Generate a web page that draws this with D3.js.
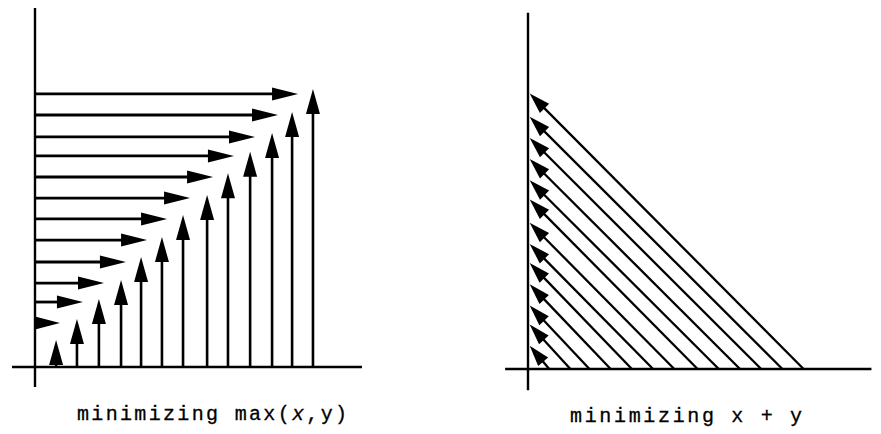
<!DOCTYPE html>
<meta charset="utf-8">
<style>
body { margin: 0; background: #fff; }
text { font-family: "Liberation Mono", "DejaVu Sans Mono", monospace; font-size: 20px; fill: #000; stroke: #000; stroke-width: 0.3px; }
</style>
<svg width="881" height="434"></svg>
<script src="https://d3js.org/d3.v7.min.js"></script>
<script>

// left panel: minimizing max(x,y)  (grid units)
var maxRowY   = [2.07, 3.05, 3.94, 4.93, 5.96, 6.95, 7.93, 8.92, 9.91, 10.8, 11.83, 12.82];
var maxRowTip = [1.17, 2.25, 3.24, 4.27, 5.26, 6.2, 7.28, 8.36, 9.34, 10.33, 11.41, 12.35];
var maxColX   = [0.99, 1.97, 3.0, 4.04, 4.98, 5.96, 6.95, 8.08, 9.06, 10.1, 11.13, 12.07, 13.05];
var maxColTip = [1.27, 2.25, 3.19, 4.08, 5.16, 6.1, 7.14, 8.08, 9.1, 10.1, 10.99, 11.97, 13.05];

// right panel: minimizing x + y  (foot on x axis, tip on y axis)
var sumFoot = [1.0, 2.0, 2.9, 3.9, 4.9, 5.9, 6.9, 8.0, 9.0, 10.0, 11.0, 12.0, 13.0];
var sumTip  = [1.1, 2.1, 3.0, 4.0, 5.0, 5.9, 6.9, 8.0, 8.9, 9.9, 10.9, 11.9, 13.0];

var labels = ["minimizing max(", "x", ",y)", "minimizing x + y"];

var svg = d3.select("svg");

var xL = d3.scaleLinear().domain([0, 1]).range([35, 56.3]),
    yL = d3.scaleLinear().domain([0, 1]).range([367, 345.7]),
    xR = d3.scaleLinear().domain([0, 1]).range([528, 549.2]),
    yR = d3.scaleLinear().domain([0, 1]).range([369, 347.8]);

function axisLines(x, y, x0, x1, y0, y1) {
  svg.append("line")
      .attr("x1", x(x0)).attr("x2", x(x1))
      .attr("y1", y(0)).attr("y2", y(0))
      .attr("stroke", "#000").attr("stroke-width", 2.4);
  svg.append("line")
      .attr("x1", x(0)).attr("x2", x(0))
      .attr("y1", y(y0)).attr("y2", y(y1))
      .attr("stroke", "#000").attr("stroke-width", 2.4);
}

// arrow from (ax,ay) to (bx,by) in pixels, filled head at b
function arrow(ax, ay, bx, by, len, half, sw) {
  var dx = bx - ax, dy = by - ay, d = Math.hypot(dx, dy),
      ux = dx / d, uy = dy / d,
      l = Math.min(len, d),
      cx = bx - ux * l, cy = by - uy * l;
  if (d > l) {
    svg.append("line")
        .attr("x1", ax).attr("y1", ay).attr("x2", cx + ux).attr("y2", cy + uy)
        .attr("stroke", "#000").attr("stroke-width", sw);
  }
  svg.append("path")
      .attr("d", "M" + bx + "," + by +
                 "L" + (cx - uy * half) + "," + (cy + ux * half) +
                 "L" + (cx + uy * half) + "," + (cy - ux * half) + "Z")
      .attr("fill", "#000");
}

axisLines(xL, yL, -1.08, 15.35, -0.94, 16.85);
axisLines(xR, yR, -1.08, 16.2, -1.0, 16.8);

maxRowY.forEach(function(v, i) {
  arrow(xL(0), yL(v), xL(maxRowTip[i]), yL(v), 26, 6.5, 2.8);
});
maxColX.forEach(function(v, i) {
  arrow(xL(v), yL(0), xL(v), yL(maxColTip[i]), 25, 7, 2.6);
});
sumFoot.forEach(function(v, i) {
  arrow(xR(v), yR(0), xR(0.08), yR(sumTip[i]), 21, 6.5, 2.3);
});

var t1 = svg.append("text").attr("x", 77).attr("y", 420)
    .attr("textLength", 270).attr("lengthAdjust", "spacing");
t1.append("tspan").text(labels[0]);
t1.append("tspan").style("font-style", "italic").text(labels[1]);
t1.append("tspan").text(labels[2]);

svg.append("text").attr("x", 570).attr("y", 422)
    .attr("textLength", 232).attr("lengthAdjust", "spacing")
    .text(labels[3]);

</script>
